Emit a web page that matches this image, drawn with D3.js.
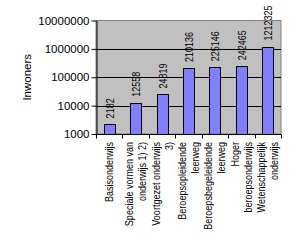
<!DOCTYPE html>
<html>
<head>
<meta charset="utf-8">
<script src="https://cdn.jsdelivr.net/npm/d3@7"></script>
<style>
  body { margin: 0; background: #fff; }
  text { font-family: "Liberation Sans", Arial, sans-serif; }
</style>
</head>
<body>
<script>
var categories = [
  ["Basisonderwijs"],
  ["Speciale vormen van", "onderwijs 1) 2)"],
  ["Voortgezet onderwijs", "3)"],
  ["Beroepsopleidende", "leerweg"],
  ["Beroepsbegeleidende", "leerweg"],
  ["Hoger", "beroepsonderwijs"],
  ["Wetenschappelijk", "onderwijs"]
];
var values = [2182, 12558, 24819, 210136, 225146, 242465, 1212325];
var yTicks = [1000, 10000, 100000, 1000000, 10000000];
var yTitle = "Inwoners";

var svgWidth = 295;
var svgHeight = 243;
var plotLeft = 96, plotRight = 281, plotTop = 20.5, plotBottom = 134;
var squeeze = 0.82; // narrow look of the original labels

var svg = d3.select("body")
  .append("svg")
  .attr("width", svgWidth)
  .attr("height", svgHeight);

var xScale = d3.scaleBand()
  .domain(d3.range(values.length))
  .range([plotLeft, plotRight])
  .paddingInner(0.58)
  .paddingOuter(0.29);

var bandScale = d3.scaleBand()
  .domain(d3.range(values.length))
  .range([plotLeft, plotRight]);

var yScale = d3.scaleLog()
  .domain([1000, 10000000])
  .range([plotBottom, plotTop]);

// plot area
svg.append("rect")
  .attr("x", plotLeft)
  .attr("y", plotTop)
  .attr("width", plotRight - plotLeft)
  .attr("height", plotBottom - plotTop)
  .style("fill", "#c0c0c0")
  .style("stroke", "#808080")
  .style("stroke-width", 1);

// gridlines
svg.selectAll(".grid")
  .data(yTicks.slice(1, -1))
  .enter()
  .append("line")
  .attr("x1", plotLeft)
  .attr("x2", plotRight)
  .attr("y1", function(d) { return Math.round(yScale(d)) + 0.5; })
  .attr("y2", function(d) { return Math.round(yScale(d)) + 0.5; })
  .style("stroke", "#000")
  .style("stroke-width", 1);

// bars
svg.selectAll(".bar")
  .data(values)
  .enter()
  .append("rect")
  .attr("class", "bar")
  .attr("x", function(d, i) { return Math.round(xScale(i)) + 0.5; })
  .attr("y", function(d) { return Math.round(yScale(d)) + 0.5; })
  .attr("width", Math.round(xScale.bandwidth()))
  .attr("height", function(d) { return Math.round(yScale(1000)) - Math.round(yScale(d)); })
  .style("fill", "#8080ff")
  .style("stroke", "#000")
  .style("stroke-width", 1);

// value labels
svg.selectAll(".val")
  .data(values)
  .enter()
  .append("text")
  .attr("transform", function(d, i) {
    return "translate(" + (bandScale(i) + bandScale.bandwidth() / 2 + 4.5) + "," + (yScale(d) - 6) + ") rotate(-90) scale(" + squeeze + ",1)";
  })
  .style("font-size", "11px")
  .text(function(d) { return d; });

// y axis
var yAxis = svg.append("g")
  .attr("transform", "translate(" + (plotLeft + 0.5) + ",0)")
  .call(d3.axisLeft(yScale).tickValues(yTicks).tickFormat(d3.format("d")).tickSize(5).tickSizeOuter(0));
yAxis.select(".domain").style("stroke", "#000");
yAxis.selectAll(".tick line").style("stroke", "#000");
yAxis.selectAll(".tick text")
  .attr("x", -7)
  .style("font-size", "11.5px")
  .style("font-family", "Liberation Sans, Arial, sans-serif")
  .style("fill", "#000");

// x axis
var xAxis = svg.append("g")
  .attr("transform", "translate(0," + (plotBottom + 0.5) + ")");
xAxis.append("line")
  .attr("x1", plotLeft).attr("x2", plotRight)
  .style("stroke", "#000");
xAxis.selectAll(".xt")
  .data(d3.range(values.length + 1))
  .enter()
  .append("line")
  .attr("x1", function(d) { return Math.round(plotLeft + d * bandScale.step()) + 0.5; })
  .attr("x2", function(d) { return Math.round(plotLeft + d * bandScale.step()) + 0.5; })
  .attr("y1", 0)
  .attr("y2", 4)
  .style("stroke", "#000");

// category labels
var lineH = 13;
svg.selectAll(".cat")
  .data(categories)
  .enter()
  .append("text")
  .attr("text-anchor", "end")
  .style("font-size", "11px")
  .attr("transform", function(d, i) {
    var cx = bandScale(i) + bandScale.bandwidth() / 2;
    var x0 = cx - (d.length - 1) * lineH / 2 + 4;
    return "translate(" + x0 + "," + (plotBottom + 8) + ") rotate(-90) scale(" + squeeze + ",1)";
  })
  .selectAll("tspan")
  .data(function(d) { return d; })
  .enter()
  .append("tspan")
  .attr("x", 0)
  .attr("dy", function(d, i) { return i === 0 ? 0 : lineH; })
  .text(function(d) { return d; });

// y title
svg.append("text")
  .attr("transform", "translate(31," + ((plotTop + plotBottom) / 2) + ") rotate(-90)")
  .attr("text-anchor", "middle")
  .style("font-size", "11.5px")
  .text(yTitle);
</script>
</body>
</html>
